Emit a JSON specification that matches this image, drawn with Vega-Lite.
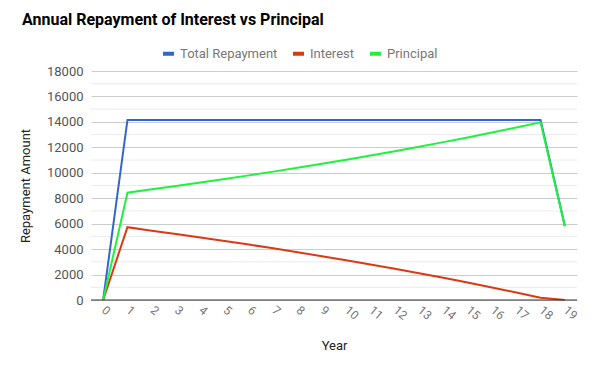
{
  "$schema": "https://vega.github.io/schema/vega-lite/v6.json",
  "autosize": {"type": "none"},
  "width": 486,
  "height": 229,
  "padding": {"left": 91, "top": 71, "right": 27, "bottom": 69},
  "background": "white",
  "title": {
    "text": "Annual Repayment of Interest vs Principal",
    "anchor": "start",
    "frame": "group",
    "dx": -69,
    "offset": 18,
    "font": "Roboto",
    "fontSize": 16,
    "fontWeight": "bold",
    "color": "#000000"
  },
  "data": {
    "values": [
      {"year": 0, "series": "Total Repayment", "amount": 0},
      {"year": 1, "series": "Total Repayment", "amount": 14150},
      {"year": 2, "series": "Total Repayment", "amount": 14150},
      {"year": 3, "series": "Total Repayment", "amount": 14150},
      {"year": 4, "series": "Total Repayment", "amount": 14150},
      {"year": 5, "series": "Total Repayment", "amount": 14150},
      {"year": 6, "series": "Total Repayment", "amount": 14150},
      {"year": 7, "series": "Total Repayment", "amount": 14150},
      {"year": 8, "series": "Total Repayment", "amount": 14150},
      {"year": 9, "series": "Total Repayment", "amount": 14150},
      {"year": 10, "series": "Total Repayment", "amount": 14150},
      {"year": 11, "series": "Total Repayment", "amount": 14150},
      {"year": 12, "series": "Total Repayment", "amount": 14150},
      {"year": 13, "series": "Total Repayment", "amount": 14150},
      {"year": 14, "series": "Total Repayment", "amount": 14150},
      {"year": 15, "series": "Total Repayment", "amount": 14150},
      {"year": 16, "series": "Total Repayment", "amount": 14150},
      {"year": 17, "series": "Total Repayment", "amount": 14150},
      {"year": 18, "series": "Total Repayment", "amount": 14150},
      {"year": 19, "series": "Total Repayment", "amount": 5810},
      {"year": 0, "series": "Interest", "amount": 0},
      {"year": 1, "series": "Interest", "amount": 5720},
      {"year": 2, "series": "Interest", "amount": 5450},
      {"year": 3, "series": "Interest", "amount": 5185},
      {"year": 4, "series": "Interest", "amount": 4916},
      {"year": 5, "series": "Interest", "amount": 4640},
      {"year": 6, "series": "Interest", "amount": 4354},
      {"year": 7, "series": "Interest", "amount": 4060},
      {"year": 8, "series": "Interest", "amount": 3758},
      {"year": 9, "series": "Interest", "amount": 3446},
      {"year": 10, "series": "Interest", "amount": 3125},
      {"year": 11, "series": "Interest", "amount": 2794},
      {"year": 12, "series": "Interest", "amount": 2453},
      {"year": 13, "series": "Interest", "amount": 2102},
      {"year": 14, "series": "Interest", "amount": 1741},
      {"year": 15, "series": "Interest", "amount": 1369},
      {"year": 16, "series": "Interest", "amount": 985},
      {"year": 17, "series": "Interest", "amount": 590},
      {"year": 18, "series": "Interest", "amount": 184},
      {"year": 19, "series": "Interest", "amount": 10},
      {"year": 0, "series": "Principal", "amount": 0},
      {"year": 1, "series": "Principal", "amount": 8430},
      {"year": 2, "series": "Principal", "amount": 8700},
      {"year": 3, "series": "Principal", "amount": 8965},
      {"year": 4, "series": "Principal", "amount": 9234},
      {"year": 5, "series": "Principal", "amount": 9510},
      {"year": 6, "series": "Principal", "amount": 9796},
      {"year": 7, "series": "Principal", "amount": 10090},
      {"year": 8, "series": "Principal", "amount": 10392},
      {"year": 9, "series": "Principal", "amount": 10704},
      {"year": 10, "series": "Principal", "amount": 11025},
      {"year": 11, "series": "Principal", "amount": 11356},
      {"year": 12, "series": "Principal", "amount": 11697},
      {"year": 13, "series": "Principal", "amount": 12048},
      {"year": 14, "series": "Principal", "amount": 12409},
      {"year": 15, "series": "Principal", "amount": 12781},
      {"year": 16, "series": "Principal", "amount": 13165},
      {"year": 17, "series": "Principal", "amount": 13560},
      {"year": 18, "series": "Principal", "amount": 13966},
      {"year": 19, "series": "Principal", "amount": 5800}
    ]
  },
  "layer": [
    {
      "mark": {"type": "rule", "color": "#ebebeb", "strokeWidth": 1},
      "data": {"values": [{"v": 1000}, {"v": 3000}, {"v": 5000}, {"v": 7000}, {"v": 9000}, {"v": 11000}, {"v": 13000}, {"v": 15000}, {"v": 17000}]},
      "encoding": {
        "y": {"field": "v", "type": "quantitative", "title": "Repayment Amount",
          "scale": {"domain": [0, 18000], "nice": false}}
      }
    },
    {
      "mark": {"type": "line", "strokeWidth": 2, "clip": false},
      "encoding": {
        "x": {
          "field": "year",
          "type": "quantitative",
          "scale": {"domain": [-0.5, 19.5], "nice": false, "zero": false},
          "axis": {
            "title": "Year",
            "values": [0,1,2,3,4,5,6,7,8,9,10,11,12,13,14,15,16,17,18,19],
            "grid": false,
            "domain": false,
            "ticks": false,
            "labelOverlap": false,
            "labelAngle": 40,
            "labelAlign": "left",
            "labelBaseline": "middle",
            "labelPadding": 8,
            "labelFont": "Roboto",
            "labelFontSize": 12,
            "labelColor": "#777777",
            "titleFont": "Roboto",
            "titleFontSize": 13,
            "titleFontWeight": "normal",
            "titleColor": "#222222",
            "titlePadding": 18
          }
        },
        "y": {
          "field": "amount",
          "type": "quantitative",
          "title": "Repayment Amount",
          "scale": {"domain": [0, 18000], "nice": false}
        },
        "color": {
          "field": "series",
          "type": "nominal",
          "scale": {
            "domain": ["Total Repayment", "Interest", "Principal"],
            "range": ["#3366cc", "#dc3912", "#1ff23c"]
          },
          "legend": {
            "title": null,
            "orient": "none",
            "legendX": 70,
            "legendY": -25,
            "direction": "horizontal",
            "symbolType": "stroke",
            "symbolSize": 121,
            "symbolStrokeWidth": 4,
            "labelFont": "Roboto",
            "labelFontSize": 13,
            "labelColor": "#777777",
            "labelOffset": 4,
            "columnPadding": 7
          }
        },
        "order": {"field": "year", "type": "quantitative"}
      }
    },
    {
      "mark": {"type": "rule", "color": "#333333", "strokeWidth": 1},
      "data": {"values": [{"v": 0}]},
      "encoding": {
        "y": {"field": "v", "type": "quantitative", "title": "Repayment Amount",
          "scale": {"domain": [0, 18000], "nice": false}}
      }
    }
  ],
  "config": {
    "view": {"stroke": null},
    "axisY": {
      "values": [0, 2000, 4000, 6000, 8000, 10000, 12000, 14000, 16000, 18000],
      "format": "d",
      "grid": true,
      "gridColor": "#cccccc",
      "domain": false,
      "ticks": false,
      "labelOverlap": false,
      "labelPadding": 8,
      "labelFont": "Roboto",
      "labelFontSize": 13,
      "labelColor": "#555555",
      "titleFont": "Roboto",
      "titleFontSize": 13,
      "titleFontWeight": "normal",
      "titleColor": "#222222",
      "titlePadding": 14
    }
  }
}
